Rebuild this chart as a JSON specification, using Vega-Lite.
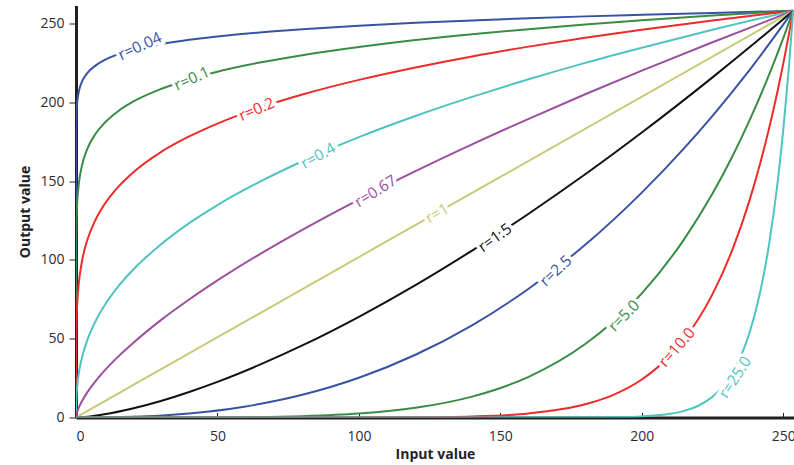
{
  "$schema": "https://vega.github.io/schema/vega-lite/v6.json",
  "autosize": {"type": "none"},
  "width": 718,
  "height": 412,
  "padding": {"left": 76, "top": 5.5, "right": 0, "bottom": 47.5},
  "background": "white",
  "config": {
    "view": {"stroke": null},
    "font": "Open Sans",
    "axis": {"grid": false, "domainColor": "#231f20", "domainWidth": 3, "tickColor": "#231f20", "tickWidth": 1, "labelColor": "#2b2b36", "labelFont": "Open Sans", "labelFontSize": 14, "titleFont": "Open Sans", "titleFontSize": 14, "titleFontWeight": "bold", "titleColor": "#1f1f28", "zindex": 1}
  },
  "datasets": {
    "curves": [
      {"r":"0.04","x":0,"y":0},{"r":"0.04","x":0.05,"y":183.5},{"r":"0.04","x":0.2,"y":193.9},{"r":"0.04","x":0.5,"y":201.2},{"r":"0.04","x":1,"y":206.8},{"r":"0.04","x":2,"y":212.6},{"r":"0.04","x":4,"y":218.5},{"r":"0.04","x":7,"y":223.4},{"r":"0.04","x":10,"y":226.7},{"r":"0.04","x":15,"y":230.4},{"r":"0.04","x":20,"y":233.0},{"r":"0.04","x":30,"y":236.8},{"r":"0.04","x":40,"y":239.6},{"r":"0.04","x":50,"y":241.7},{"r":"0.04","x":65,"y":244.3},{"r":"0.04","x":80,"y":246.3},{"r":"0.04","x":100,"y":248.5},{"r":"0.04","x":120,"y":250.4},{"r":"0.04","x":140,"y":251.9},{"r":"0.04","x":160,"y":253.3},{"r":"0.04","x":180,"y":254.5},{"r":"0.04","x":200,"y":255.5},{"r":"0.04","x":225,"y":256.7},{"r":"0.04","x":253.5,"y":258},
      {"r":"0.1","x":0,"y":0},{"r":"0.1","x":0.05,"y":109.9},{"r":"0.1","x":0.2,"y":126.3},{"r":"0.1","x":0.5,"y":138.4},{"r":"0.1","x":1,"y":148.3},{"r":"0.1","x":2,"y":159.0},{"r":"0.1","x":4,"y":170.4},{"r":"0.1","x":7,"y":180.2},{"r":"0.1","x":10,"y":186.7},{"r":"0.1","x":15,"y":194.5},{"r":"0.1","x":20,"y":200.2},{"r":"0.1","x":30,"y":208.4},{"r":"0.1","x":40,"y":214.5},{"r":"0.1","x":50,"y":219.4},{"r":"0.1","x":65,"y":225.2},{"r":"0.1","x":80,"y":229.9},{"r":"0.1","x":100,"y":235.1},{"r":"0.1","x":120,"y":239.5},{"r":"0.1","x":140,"y":243.2},{"r":"0.1","x":160,"y":246.4},{"r":"0.1","x":180,"y":249.3},{"r":"0.1","x":200,"y":252.0},{"r":"0.1","x":225,"y":255.0},{"r":"0.1","x":253.5,"y":258},
      {"r":"0.2","x":0,"y":0},{"r":"0.2","x":0.05,"y":46.8},{"r":"0.2","x":0.2,"y":61.8},{"r":"0.2","x":0.5,"y":74.2},{"r":"0.2","x":1,"y":85.3},{"r":"0.2","x":2,"y":98.0},{"r":"0.2","x":4,"y":112.6},{"r":"0.2","x":7,"y":125.8},{"r":"0.2","x":10,"y":135.1},{"r":"0.2","x":15,"y":146.5},{"r":"0.2","x":20,"y":155.2},{"r":"0.2","x":30,"y":168.4},{"r":"0.2","x":40,"y":178.3},{"r":"0.2","x":50,"y":186.5},{"r":"0.2","x":65,"y":196.6},{"r":"0.2","x":80,"y":204.9},{"r":"0.2","x":100,"y":214.2},{"r":"0.2","x":120,"y":222.1},{"r":"0.2","x":140,"y":229.1},{"r":"0.2","x":160,"y":235.3},{"r":"0.2","x":180,"y":240.9},{"r":"0.2","x":200,"y":246.0},{"r":"0.2","x":225,"y":251.9},{"r":"0.2","x":253.5,"y":258},
      {"r":"0.4","x":0,"y":0},{"r":"0.4","x":0.05,"y":8.5},{"r":"0.4","x":0.2,"y":14.8},{"r":"0.4","x":0.5,"y":21.3},{"r":"0.4","x":1,"y":28.2},{"r":"0.4","x":2,"y":37.2},{"r":"0.4","x":4,"y":49.1},{"r":"0.4","x":7,"y":61.4},{"r":"0.4","x":10,"y":70.8},{"r":"0.4","x":15,"y":83.3},{"r":"0.4","x":20,"y":93.4},{"r":"0.4","x":30,"y":109.8},{"r":"0.4","x":40,"y":123.3},{"r":"0.4","x":50,"y":134.8},{"r":"0.4","x":65,"y":149.6},{"r":"0.4","x":80,"y":162.6},{"r":"0.4","x":100,"y":177.9},{"r":"0.4","x":120,"y":191.3},{"r":"0.4","x":140,"y":203.4},{"r":"0.4","x":160,"y":214.6},{"r":"0.4","x":180,"y":225.0},{"r":"0.4","x":200,"y":234.6},{"r":"0.4","x":225,"y":246.0},{"r":"0.4","x":253.5,"y":258},
      {"r":"0.67","x":0,"y":0},{"r":"0.67","x":0.2,"y":2.15},{"r":"0.67","x":0.5,"y":3.98},{"r":"0.67","x":1,"y":6.32},{"r":"0.67","x":2,"y":10.06},{"r":"0.67","x":4,"y":16.0},{"r":"0.67","x":7,"y":23.3},{"r":"0.67","x":10,"y":29.6},{"r":"0.67","x":15,"y":38.8},{"r":"0.67","x":20,"y":47.0},{"r":"0.67","x":30,"y":61.8},{"r":"0.67","x":40,"y":74.9},{"r":"0.67","x":50,"y":87.0},{"r":"0.67","x":65,"y":103.7},{"r":"0.67","x":80,"y":119.1},{"r":"0.67","x":100,"y":138.3},{"r":"0.67","x":120,"y":156.3},{"r":"0.67","x":140,"y":173.3},{"r":"0.67","x":160,"y":189.5},{"r":"0.67","x":180,"y":205.1},{"r":"0.67","x":200,"y":220.1},{"r":"0.67","x":225,"y":238.1},{"r":"0.67","x":253.5,"y":258},
      {"r":"1","x":0,"y":0},{"r":"1","x":253.5,"y":258},
      {"r":"1.5","x":0,"y":0},{"r":"1.5","x":5,"y":0.71},{"r":"1.5","x":10,"y":2.02},{"r":"1.5","x":20,"y":5.72},{"r":"1.5","x":30,"y":10.5},{"r":"1.5","x":40,"y":16.2},{"r":"1.5","x":50,"y":22.6},{"r":"1.5","x":65,"y":33.5},{"r":"1.5","x":80,"y":45.7},{"r":"1.5","x":100,"y":63.9},{"r":"1.5","x":120,"y":84.0},{"r":"1.5","x":140,"y":105.9},{"r":"1.5","x":160,"y":129.3},{"r":"1.5","x":180,"y":154.3},{"r":"1.5","x":200,"y":180.8},{"r":"1.5","x":225,"y":215.8},{"r":"1.5","x":240,"y":237.7},{"r":"1.5","x":253.5,"y":258},
      {"r":"2.5","x":0,"y":0},{"r":"2.5","x":20,"y":0.45},{"r":"2.5","x":40,"y":2.55},{"r":"2.5","x":60,"y":7.03},{"r":"2.5","x":80,"y":14.4},{"r":"2.5","x":100,"y":25.2},{"r":"2.5","x":120,"y":39.8},{"r":"2.5","x":140,"y":58.5},{"r":"2.5","x":160,"y":81.7},{"r":"2.5","x":180,"y":109.6},{"r":"2.5","x":200,"y":142.7},{"r":"2.5","x":215,"y":170.9},{"r":"2.5","x":225,"y":191.4},{"r":"2.5","x":238,"y":220.3},{"r":"2.5","x":253.5,"y":258},
      {"r":"5.0","x":0,"y":0},{"r":"5.0","x":40,"y":0.03},{"r":"5.0","x":60,"y":0.19},{"r":"5.0","x":80,"y":0.81},{"r":"5.0","x":100,"y":2.47},{"r":"5.0","x":120,"y":6.14},{"r":"5.0","x":140,"y":13.25},{"r":"5.0","x":160,"y":25.8},{"r":"5.0","x":180,"y":46.6},{"r":"5.0","x":190,"y":61.1},{"r":"5.0","x":200,"y":78.8},{"r":"5.0","x":215,"y":113.2},{"r":"5.0","x":225,"y":142.1},{"r":"5.0","x":232,"y":165.6},{"r":"5.0","x":238,"y":188.2},{"r":"5.0","x":245,"y":217.5},{"r":"5.0","x":250,"y":240.7},{"r":"5.0","x":253.5,"y":258},
      {"r":"10.0","x":0,"y":0},{"r":"10.0","x":100,"y":0.02},{"r":"10.0","x":120,"y":0.14},{"r":"10.0","x":140,"y":0.68},{"r":"10.0","x":160,"y":2.59},{"r":"10.0","x":180,"y":8.41},{"r":"10.0","x":190,"y":14.4},{"r":"10.0","x":200,"y":24.1},{"r":"10.0","x":210,"y":39.3},{"r":"10.0","x":215,"y":49.7},{"r":"10.0","x":225,"y":78.3},{"r":"10.0","x":232,"y":106.3},{"r":"10.0","x":238,"y":137.3},{"r":"10.0","x":242,"y":162.2},{"r":"10.0","x":245,"y":183.5},{"r":"10.0","x":248,"y":207.2},{"r":"10.0","x":250,"y":224.5},{"r":"10.0","x":252,"y":243.1},{"r":"10.0","x":253.5,"y":258},
      {"r":"25.0","x":0,"y":0},{"r":"25.0","x":180,"y":0.05},{"r":"25.0","x":190,"y":0.19},{"r":"25.0","x":200,"y":0.69},{"r":"25.0","x":210,"y":2.33},{"r":"25.0","x":215,"y":4.2},{"r":"25.0","x":220,"y":7.46},{"r":"25.0","x":225,"y":13.1},{"r":"25.0","x":230,"y":22.7},{"r":"25.0","x":235,"y":38.8},{"r":"25.0","x":238,"y":53.3},{"r":"25.0","x":242,"y":80.9},{"r":"25.0","x":245,"y":110.0},{"r":"25.0","x":248,"y":149.1},{"r":"25.0","x":250,"y":182.3},{"r":"25.0","x":252,"y":222.4},{"r":"25.0","x":253.5,"y":258}
    ],
    "labels": [
      {"r":"0.04","label":"r=0.04","x":22.6,"y":235.5},
      {"r":"0.1","label":"r=0.1","x":41,"y":215},
      {"r":"0.2","label":"r=0.2","x":63.9,"y":195.5},
      {"r":"0.4","label":"r=0.4","x":85.6,"y":166},
      {"r":"0.67","label":"r=0.67","x":105.9,"y":143.5},
      {"r":"1","label":"r=1","x":127.7,"y":129.5},
      {"r":"1.5","label":"r=1.5","x":148.1,"y":114},
      {"r":"2.5","label":"r=2.5","x":169.6,"y":93},
      {"r":"5.0","label":"r=5.0","x":193.7,"y":64.5},
      {"r":"10.0","label":"r=10.0","x":212.4,"y":44.5},
      {"r":"25.0","label":"r=25.0","x":233,"y":25.5}
    ]
  },
  "layer": [
    {
      "data": {"name": "curves"},
      "mark": {"type": "line", "interpolate": "monotone", "strokeWidth": 2, "clip": true},
      "encoding": {
        "x": {"field": "x", "type": "quantitative", "scale": {"domain": [0, 253.8], "nice": false, "zero": false},
              "axis": {"values": [0, 50, 100, 150, 200, 250], "tickSize": -5, "labelPadding": 16.5, "title": "Input value", "titlePadding": 4}},
        "y": {"field": "y", "type": "quantitative", "scale": {"domain": [0, 261.4], "nice": false, "zero": false},
              "axis": {"values": [0, 50, 100, 150, 200, 250], "tickSize": 7, "labelPadding": 5, "title": "Output value", "titlePadding": 7}},
        "color": {"field": "r", "type": "nominal", "legend": null,
                  "scale": {"domain": ["0.04","0.1","0.2","0.4","0.67","1","1.5","2.5","5.0","10.0","25.0"],
                            "range": ["#3953a4","#3a8c44","#ee2a2a","#4ec3c0","#9b4f9f","#c9c97a","#111111","#3953a4","#3a8c44","#ee2a2a","#4ec3c0"]}},
        "detail": {"field": "r"}
      }
    },
    {
      "data": {"name": "labels"},
      "mark": {"type": "text", "font": "Open Sans", "fontSize": 15.5, "align": "center", "baseline": "middle", "fill": "white", "stroke": "white", "strokeWidth": 7},
      "encoding": {
        "x": {"field": "x", "type": "quantitative"},
        "y": {"field": "y", "type": "quantitative"},
        "text": {"field": "label"},
        "angle": {"field": "r", "type": "nominal", "legend": null,
                  "scale": {"type": "ordinal", "domain": ["0.04","0.1","0.2","0.4","0.67","1","1.5","2.5","5.0","10.0","25.0"],
                            "range": [335, 336, 337, 331, 328, 330, 324, 317, 314, 311, 303]}}
      }
    },
    {
      "data": {"name": "labels"},
      "mark": {"type": "text", "font": "Open Sans", "fontSize": 15.5, "align": "center", "baseline": "middle"},
      "encoding": {
        "x": {"field": "x", "type": "quantitative"},
        "y": {"field": "y", "type": "quantitative"},
        "text": {"field": "label"},
        "color": {"field": "r", "type": "nominal", "legend": null},
        "angle": {"field": "r", "type": "nominal", "legend": null,
                  "scale": {"type": "ordinal", "domain": ["0.04","0.1","0.2","0.4","0.67","1","1.5","2.5","5.0","10.0","25.0"],
                            "range": [335, 336, 337, 331, 328, 330, 324, 317, 314, 311, 303]}}
      }
    },
    {
      "mark": {"type": "rule", "color": "#231f20", "strokeWidth": 3},
      "encoding": {"y": {"datum": 261.4}}
    }
  ]
}
